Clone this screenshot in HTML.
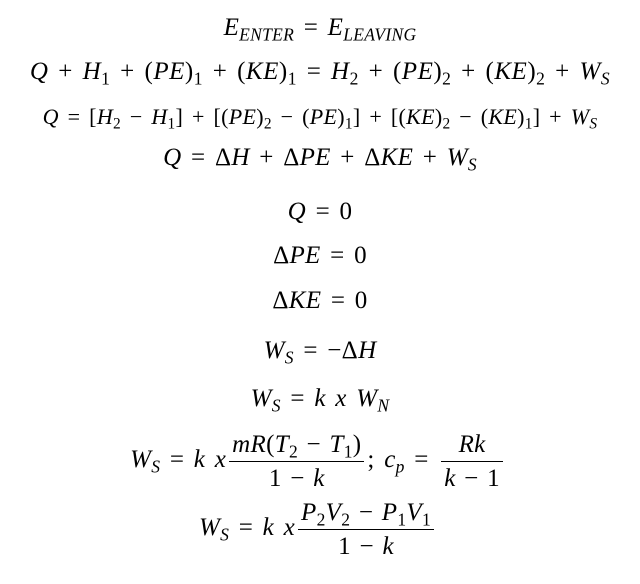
<!DOCTYPE html>
<html><head><meta charset="utf-8"><style>
body{margin:0;width:640px;height:584px;background:#fff;position:relative;overflow:hidden}
.l{position:absolute;left:0;width:640px;text-align:center;font-family:"Liberation Serif",serif;font-size:25px;line-height:25px;color:#000;white-space:nowrap;word-spacing:3px;letter-spacing:0.3px}
i{font-style:italic}
sub{font-size:0.7em;vertical-align:-0.3em;line-height:0}
.f{display:inline-block;vertical-align:middle;text-align:center;margin:0 3px;word-spacing:2px}
.f span{display:block;padding:0 3px}
.f .n{border-bottom:1.5px solid #000;padding-bottom:4px}
.f .d{padding-top:4px}
</style></head><body>
<div class="l" style="top:15px"><i>E<sub>ENTER</sub></i> = <i>E<sub>LEAVING</sub></i></div>
<div class="l" style="top:59px;letter-spacing:0.5px"><i>Q</i> + <i>H</i><sub>1</sub> + (<i>PE</i>)<sub>1</sub> + (<i>KE</i>)<sub>1</sub> = <i>H</i><sub>2</sub> + (<i>PE</i>)<sub>2</sub> + (<i>KE</i>)<sub>2</sub> + <i>W<sub>S</sub></i></div>
<div class="l" style="top:104px;font-size:22px;letter-spacing:0.3px"><i>Q</i> = [<i>H</i><sub>2</sub> − <i>H</i><sub>1</sub>] + [(<i>PE</i>)<sub>2</sub> − (<i>PE</i>)<sub>1</sub>] + [(<i>KE</i>)<sub>2</sub> − (<i>KE</i>)<sub>1</sub>] + <i>W<sub>S</sub></i></div>
<div class="l" style="top:145px"><i>Q</i> = Δ<i>H</i> + Δ<i>PE</i> + Δ<i>KE</i> + <i>W<sub>S</sub></i></div>
<div class="l" style="top:199px"><i>Q</i> = 0</div>
<div class="l" style="top:243px">Δ<i>PE</i> = 0</div>
<div class="l" style="top:288px">Δ<i>KE</i> = 0</div>
<div class="l" style="top:338px"><i>W<sub>S</sub></i> = −Δ<i>H</i></div>
<div class="l" style="top:386px"><i>W<sub>S</sub></i> = <i>k x W<sub>N</sub></i></div>
<div class="l" style="top:432px;left:-2px"><i>W<sub>S</sub></i> = <i>k x</i><span class="f"><span class="n"><i>mR</i>(<i>T</i><sub>2</sub> − <i>T</i><sub>1</sub>)</span><span class="d">1 − <i>k</i></span></span>; <i>c<sub>p</sub></i> = <span class="f"><span class="n"><i>Rk</i></span><span class="d"><i>k</i> − 1</span></span></div>
<div class="l" style="top:500px;left:-2px"><i>W<sub>S</sub></i> = <i>k x</i><span class="f"><span class="n"><i>P</i><sub>2</sub><i>V</i><sub>2</sub> − <i>P</i><sub>1</sub><i>V</i><sub>1</sub></span><span class="d">1 − <i>k</i></span></span></div>
</body></html>
